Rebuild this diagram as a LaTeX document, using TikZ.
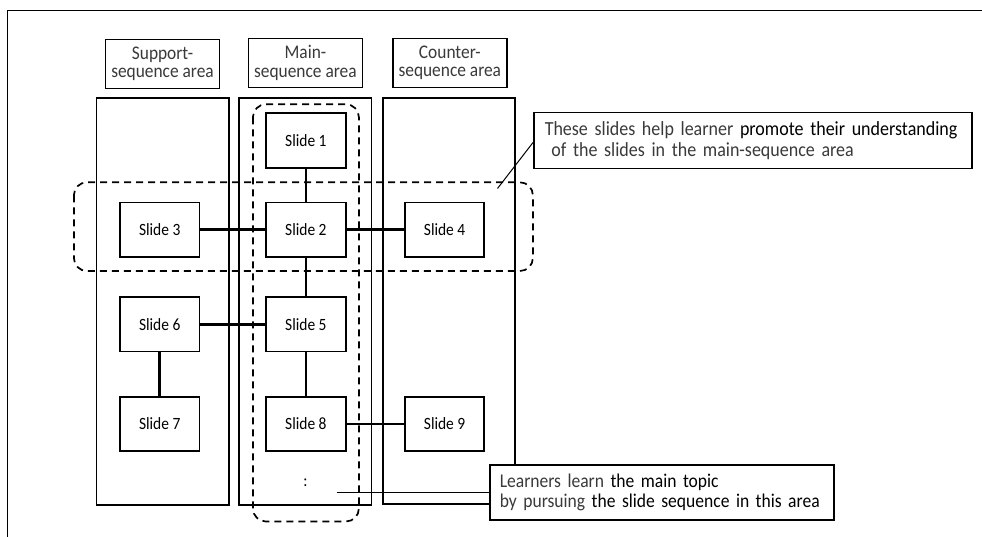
\documentclass[tikz,border=0pt]{standalone}
\usepackage{fontspec}
\setmainfont{Carlito}[FakeStretch=0.9]
\definecolor{txtgray}{HTML}{3A3A3A}
\begin{document}
\begin{tikzpicture}[x=1pt,y=-1pt,
  every node/.style={text=black, inner sep=0pt},
  header/.style={draw, line width=1.4pt, fill=white, minimum width=114pt, minimum height=49pt,
    align=center, font=\fontsize{19.3}{18.5}\selectfont, text=txtgray},
  slidebox/.style={draw, line width=1.8pt, fill=white, minimum width=79.5pt, minimum height=54.5pt,
    font=\fontsize{17.2}{20}\selectfont},
  column/.style={draw, line width=1.8pt},
  group/.style={draw, line width=1.7pt, rounded corners=13pt, dash pattern=on 7pt off 5pt},
  link/.style={draw, line width=2.8pt},
  callout/.style={draw, line width=1.5pt, fill=white, align=left, text=txtgray, inner xsep=11pt,
    font=\fontsize{20}{20.5}\selectfont},
  leader/.style={draw, line width=1pt}
]
\useasboundingbox (0,0) rectangle (982,537);

% partial outer frame
\draw[line width=1.1pt] (7.5,537) -- (7.5,10.5) -- (982,10.5);

% area headers
\node[header] (hdrS) at (162.5,63.8) {Support-\\sequence area};
\node[header] (hdrM) at (305.4,63) {Main-\\sequence area};
\node[header] (hdrC) at (449.8,63) {Counter-\\sequence area};

% area columns
\draw[column] (96.4,98.3) rectangle (228.6,505);
\draw[column] (239.3,98.3) rectangle (371.4,505);
\draw[column] (382.9,97.7) rectangle (515,504);

% dashed groupings
\draw[group] (73.9,182.3) rectangle (532.9,271);
\draw[group] (252.9,104.3) rectangle (358.9,521.5);

% slides
\node[slidebox] (s1) at (305.9,140.5) {Slide 1};
\node[slidebox] (s2) at (305.9,229.8) {Slide 2};
\node[slidebox] (s3) at (159.7,229.8) {Slide 3};
\node[slidebox] (s4) at (444.6,229.8) {Slide 4};
\node[slidebox] (s5) at (305.9,324.2) {Slide 5};
\node[slidebox] (s6) at (159.7,324.2) {Slide 6};
\node[slidebox] (s7) at (159.7,424) {Slide 7};
\node[slidebox] (s8) at (305.9,424) {Slide 8};
\node[slidebox] (s9) at (444.6,424) {Slide 9};
\node[font=\fontsize{17.2}{20}\selectfont] (dots) at (305.4,483) {:};

% links between slides
\draw[link] (s1) -- (s2);
\draw[link] (s2) -- (s3);
\draw[link] (s2) -- (s4);
\draw[link] (s2) -- (s5);
\draw[link] (s5) -- (s6);
\draw[link] (s6) -- (s7);
\draw[link] (s5) -- (s8);
\draw[link] (s8) -- (s9);

% callouts
\node[callout, minimum width=438pt, minimum height=56pt, text width=416pt, anchor=north west] (c1) at (533,112)
  {\mbox{These slides help learner \textcolor{black}{promote their understanding}}\\
   \mbox{\ of the slides in the main-sequence area}};
\node[callout, inner xsep=10pt, minimum width=344pt, minimum height=55pt, text width=324pt, anchor=north west,
      font=\fontsize{19.5}{20.5}\selectfont] (c2) at (489,464)
  {\mbox{Learners learn \textcolor{black}{the main topic}}\\
   \mbox{by pursuing \textcolor{black}{the slide sequence in this area}}};

\coordinate (p1) at (497.5,188.5);
\coordinate (p2) at (336.8,492.7);
\draw[leader] (p1) -- (c1.west |- 0,142.5);
\draw[leader] (p2) -- (c2.west |- p2);
\end{tikzpicture}
\end{document}
